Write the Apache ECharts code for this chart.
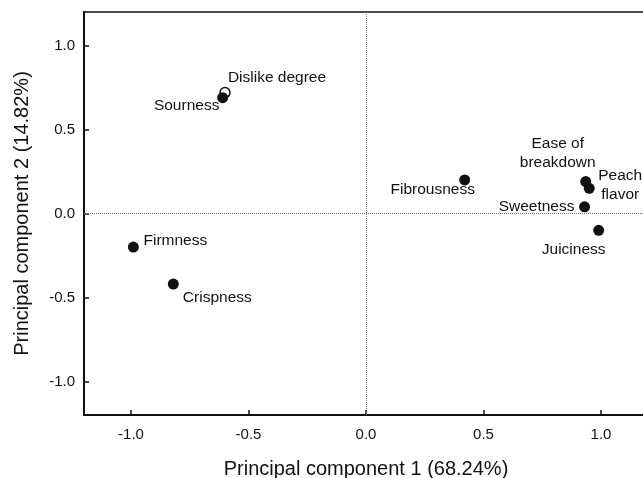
<!DOCTYPE html>
<html>
<head>
<meta charset="utf-8">
<script src="https://cdn.jsdelivr.net/npm/echarts@6/dist/echarts.min.js"></script>
<style>html,body{margin:0;padding:0;background:#fff;}#c{width:643px;height:478px;}</style>
</head>
<body>
<div id="c"></div>
<script>
// Data
const variables = ['Dislike degree','Sourness','Firmness','Crispness','Fibrousness','Ease of\nbreakdown','Peach\nflavor','Sweetness','Juiciness'];
const pc1 = [-0.60, -0.61, -0.99, -0.82, 0.42, 0.935, 0.95, 0.93, 0.99];
const pc2 = [0.72, 0.69, -0.20, -0.42, 0.20, 0.19, 0.15, 0.04, -0.10];
const openMarker = [true, false, false, false, false, false, false, false, false];
const tickValues = [-1.0, -0.5, 0.0, 0.5, 1.0];
const xTitle = 'Principal component 1 (68.24%)';
const yTitle = 'Principal component 2 (14.82%)';

// Label placement (style only)
const labelOffsets = {
  'Dislike degree': [52, -15],
  'Sourness': [-36, 8],
  'Firmness': [42, -6],
  'Crispness': [44, 14],
  'Fibrousness': [-32, 10],
  'Ease of\nbreakdown': [-28, -28],
  'Peach\nflavor': [31, -3],
  'Sweetness': [-48, 0],
  'Juiciness': [-25, 19]
};

function pts(open) {
  const out = [];
  variables.forEach((n, i) => {
    if (openMarker[i] !== open) return;
    out.push({
      name: n,
      value: [pc1[i], pc2[i]],
      label: { offset: labelOffsets[n] }
    });
  });
  return out;
}

const font = 'Liberation Sans, Arial, sans-serif';
const labelCommon = {
  show: true,
  position: 'inside',
  formatter: p => p.name,
  color: '#111',
  fontSize: 15.5,
  fontFamily: font,
  align: 'center',
  verticalAlign: 'middle',
  lineHeight: 19
};

const chart = echarts.init(document.getElementById('c'), null, { renderer: 'canvas' });
chart.setOption({
  animation: false,
  backgroundColor: '#fff',
  grid: { left: 84, top: 12, width: 564, height: 403, outerBoundsMode: 'none', containLabel: false, show: true, borderColor: '#111', borderWidth: 1.5, backgroundColor: 'transparent' },
  xAxis: {
    type: 'value', min: -1.2, max: 1.2,
    name: xTitle, nameLocation: 'middle', nameGap: 44,
    nameTextStyle: { fontSize: 20, fontFamily: font, color: '#111' },
    axisLine: { onZero: false, lineStyle: { color: '#111', width: 2 } },
    axisTick: { inside: true, length: 5, customValues: tickValues, lineStyle: { color: '#111', width: 1.5 } },
    axisLabel: { customValues: tickValues, formatter: v => v.toFixed(1), fontSize: 15, fontFamily: font, color: '#111', margin: 12 },
    splitLine: { show: false }
  },
  yAxis: {
    type: 'value', min: -1.2, max: 1.2,
    name: yTitle, nameLocation: 'middle', nameGap: 52,
    nameTextStyle: { fontSize: 20, fontFamily: font, color: '#111' },
    axisLine: { onZero: false, lineStyle: { color: '#111', width: 2 } },
    axisTick: { inside: true, length: 5, customValues: tickValues, lineStyle: { color: '#111', width: 1.5 } },
    axisLabel: { customValues: tickValues, formatter: v => v.toFixed(1), fontSize: 15, fontFamily: font, color: '#111', margin: 9 },
    splitLine: { show: false }
  },
  series: [
    {
      type: 'scatter',
      symbol: 'circle', symbolSize: 10,
      itemStyle: { color: '#fff', borderColor: '#111', borderWidth: 1.5, opacity: 1 },
      label: labelCommon,
      data: pts(true),
      z: 2,
      markLine: {
        silent: true, symbol: 'none', label: { show: false },
        lineStyle: { type: 'dotted', color: '#777', width: 1 },
        data: [{ xAxis: 0 }, { yAxis: 0 }]
      }
    },
    {
      type: 'scatter',
      symbol: 'circle', symbolSize: 11,
      itemStyle: { color: '#111', opacity: 1 },
      label: labelCommon,
      data: pts(false),
      z: 3
    }
  ]
});
</script>
</body>
</html>
